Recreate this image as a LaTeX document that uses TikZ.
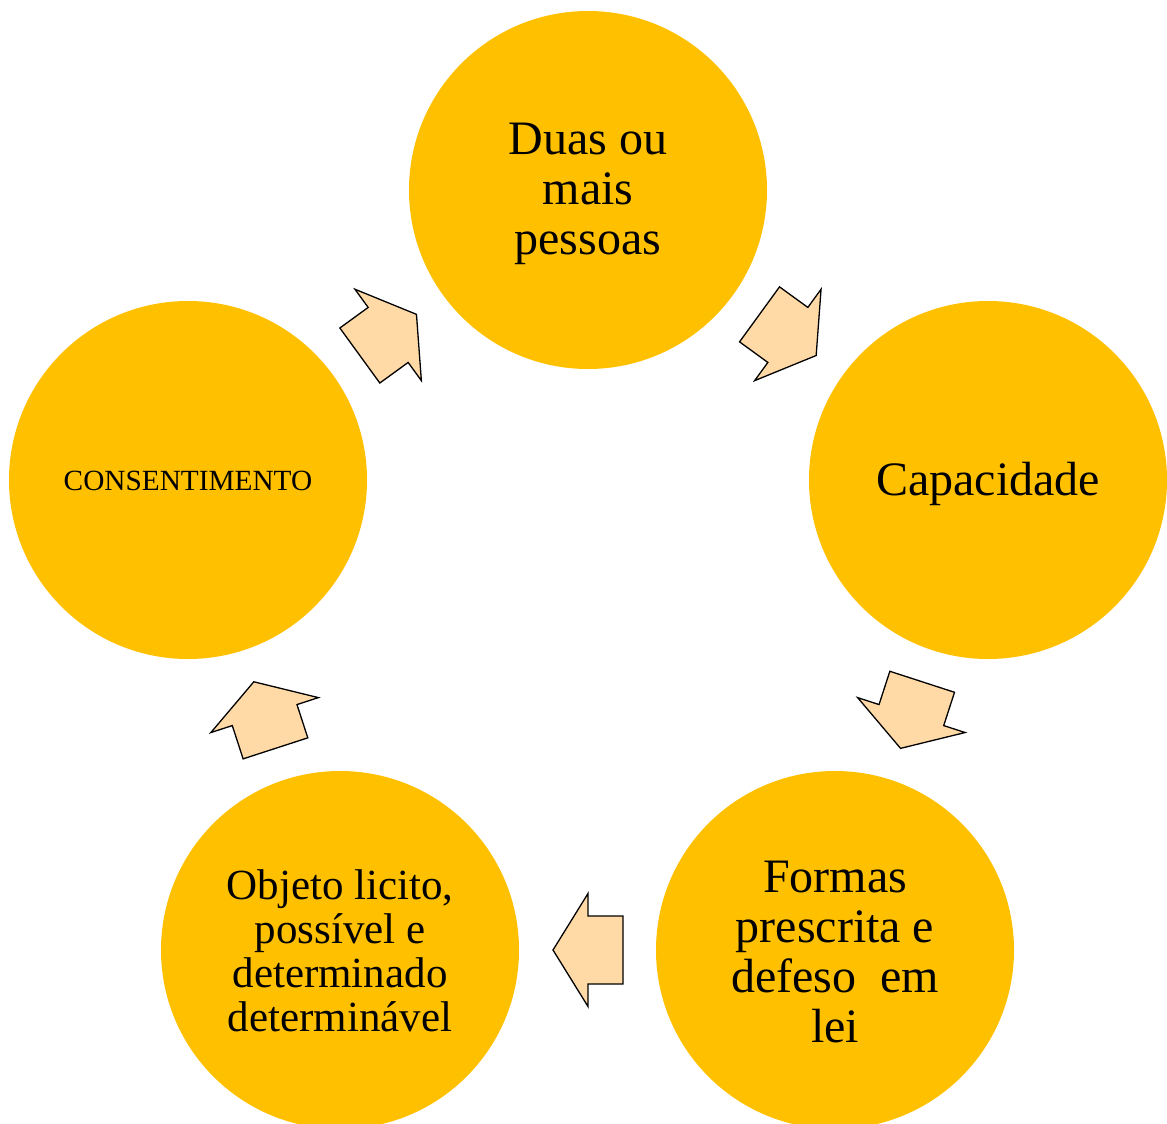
\documentclass[tikz,border=0pt]{standalone}
\usepackage{fontspec}
\setmainfont{Liberation Serif}
\definecolor{gold}{HTML}{FFC000}
\definecolor{peach}{HTML}{FFDAA6}
\begin{document}
\begin{tikzpicture}[x=1pt,y=1pt,
  bubble/.style={circle,fill=gold,minimum size=358pt,inner sep=0pt},
  label/.style={align=center,inner sep=0pt,font=\fontsize{48}{50}\selectfont},
  smalltext/.style={font=\fontsize{43}{44}\selectfont},
  tinytext/.style={font=\fontsize{29.3}{30}\selectfont},
  cyclearrow/.style={fill=peach,draw=black,line width=1.3pt,line join=miter}]
\useasboundingbox (0,0) rectangle (1167,-1124);
\clip (0,0) rectangle (1167,-1124);
\node[bubble] (duas) at (588,-190) {};
\node[bubble] (cap) at (988,-480) {};
\node[bubble] (formas) at (835,-950) {};
\node[bubble] (objeto) at (340,-950) {};
\node[bubble] (cons) at (188,-480) {};
\node[label] (duasT) at ([yshift=-4pt]duas.center) {Duas ou\\mais\\pessoas};
\node[label] (capT) at ([yshift=-4pt]cap.center) {Capacidade};
\node[label] (formasT) at ([yshift=-2pt]formas.center) {Formas\\prescrita e\\defeso\ \ em\\lei};
\node[label,smalltext] (objetoT) at ([yshift=-1pt]objeto.center) {Objeto licito,\\possível e\\determinado\\determinável};
\node[label,tinytext] (consT) at ([yshift=-1pt]cons.center) {CONSENTIMENTO};
\begin{scope}[shift={(588,-610)}]
\foreach \a in {126,54,-18,-90,198}{
  \draw[cyclearrow, shift={(\a:340)}, rotate=\a-90]
    (-35,34) -- (0,34) -- (0,56.5) -- (35,0) -- (0,-56.5) -- (0,-34) -- (-35,-34) -- cycle;
}
\end{scope}
\end{tikzpicture}
\end{document}
